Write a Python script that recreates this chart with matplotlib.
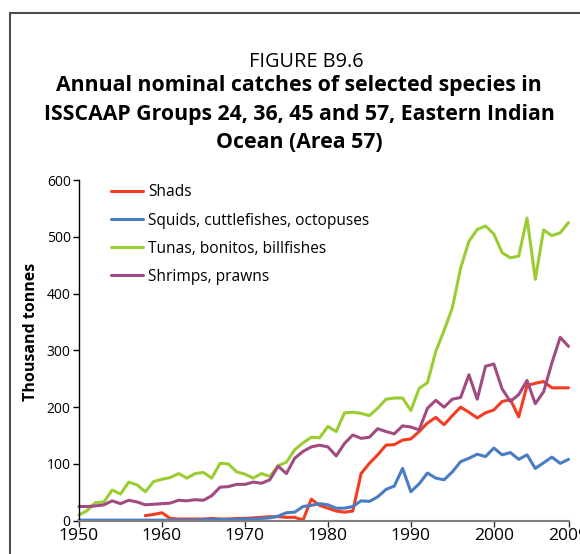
import matplotlib
matplotlib.use('Agg')
import matplotlib.pyplot as plt
from matplotlib.patches import Rectangle

plt.rcParams['font.family'] = ['Open Sans', 'DejaVu Sans']

# Data (thousand tonnes)
years = list(range(1950, 2010))

tunas = [10, 18, 32, 33, 54, 47, 68, 63, 51, 69,
         73, 76, 83, 75, 83, 85, 75, 101, 100, 86,
         82, 75, 83, 78, 97, 103, 125, 137, 147, 146,
         166, 157, 190, 191, 189, 185, 198, 214, 216, 216,
         194, 233, 243, 298, 335, 375, 445, 492, 513, 519,
         505, 472, 463, 466, 533, 425, 512, 502, 507, 525]

shrimps = [25, 25, 26, 28, 35, 30, 36, 33, 28, 29,
           30, 31, 36, 35, 37, 36, 44, 59, 60, 64,
           64, 68, 66, 72, 96, 83, 110, 122, 130, 133,
           130, 114, 136, 151, 145, 147, 162, 157, 153, 167,
           165, 160, 198, 212, 200, 214, 217, 257, 214, 272,
           276, 232, 210, 222, 247, 206, 227, 278, 323, 307]

# shads only reported from 1958
shad_years = list(range(1958, 2010))
shads = [9, 11,
         14, 4, 3, 3, 3, 3, 4, 3, 3, 4,
         4, 5, 6, 7, 7, 6, 6, 1, 38, 27,
         22, 17, 15, 17, 83, 101, 116, 133, 134, 142,
         144, 157, 172, 182, 169, 185, 200, 191, 181, 190,
         195, 210, 213, 183, 238, 242, 245, 234, 234, 234]

squids = [1, 1, 1, 1, 1, 1, 1, 1, 1, 1,
          1, 1, 1, 1, 1, 2, 2, 2, 2, 2,
          3, 3, 4, 5, 8, 14, 15, 25, 27, 30,
          28, 22, 22, 25, 35, 34, 42, 55, 61, 92,
          51, 65, 84, 75, 72, 86, 104, 110, 117, 113,
          128, 116, 120, 108, 116, 92, 102, 112, 101, 108]

labels = ['Shads', 'Squids, cuttlefishes, octopuses',
          'Tunas, bonitos, billfishes', 'Shrimps, prawns']
colors = ['#f23d22', '#4a7cc4', '#9acd32', '#a04c82']

W, H = 580, 554
fig = plt.figure(figsize=(W / 100, H / 100), dpi=100)

# outer frame, open to the right and bottom
fig.patches.append(Rectangle((10 / W, -0.1), 1.2, 1 - 12.5 / H + 0.1,
                             transform=fig.transFigure, fill=False,
                             edgecolor='#4d4d4d', linewidth=1.5))

fig.text(306 / W, 1 - 67 / H, 'FIGURE B9.6', ha='center', va='baseline',
         fontsize=14.3)
title_lines = ['Annual nominal catches of selected species in',
               'ISSCAAP Groups 24, 36, 45 and 57, Eastern Indian',
               'Ocean (Area 57)']
for i, line in enumerate(title_lines):
    fig.text(299 / W, 1 - (91 + 28.6 * i) / H, line, ha='center',
             va='baseline', fontsize=15.3, fontweight='bold')

ax = fig.add_axes([79 / W, (H - 520.7) / H, (568.5 - 79) / W, (520.7 - 180) / H])

lw = 2.2
ax.plot(shad_years, shads, color=colors[0], lw=lw, label=labels[0],
        solid_joinstyle='round', solid_capstyle='round')
ax.plot(years, squids, color=colors[1], lw=lw, label=labels[1],
        solid_joinstyle='round', solid_capstyle='round')
ax.plot(years, tunas, color=colors[2], lw=lw, label=labels[2],
        solid_joinstyle='round', solid_capstyle='round')
ax.plot(years, shrimps, color=colors[3], lw=lw, label=labels[3],
        solid_joinstyle='round', solid_capstyle='round')

ax.set_xlim(1950, 2009)
ax.set_ylim(0, 600)
ax.set_yticks(range(0, 601, 100))
xt = [1950, 1960, 1970, 1980, 1990, 2000, 2009]
ax.set_xticks(xt)
ax.set_xticklabels([str(x) for x in xt])
ax.tick_params(axis='y', direction='out', length=4, width=1, labelsize=10, pad=2)
ax.tick_params(axis='x', direction='out', length=4, width=1, labelsize=12.6,
               pad=1.5, color='#333333')

for s in ['top', 'right']:
    ax.spines[s].set_visible(False)
ax.spines['left'].set_color('black')
ax.spines['left'].set_linewidth(1)
ax.spines['bottom'].set_color('#808080')
ax.spines['bottom'].set_linewidth(1.5)
for ln in ax.lines:
    ln.set_clip_on(False)

fig.text(31 / W, 1 - 332 / H, 'Thousand tonnes', rotation=90, ha='center',
         va='center', fontsize=11.5, fontweight='bold')

ax.legend(loc='upper left', bbox_to_anchor=(0.065, 0.987), frameon=False,
          fontsize=11.2, handlelength=2.05, handletextpad=0.35,
          labelspacing=0.78, borderpad=0, borderaxespad=0)

fig.savefig('out.png', dpi=100)
